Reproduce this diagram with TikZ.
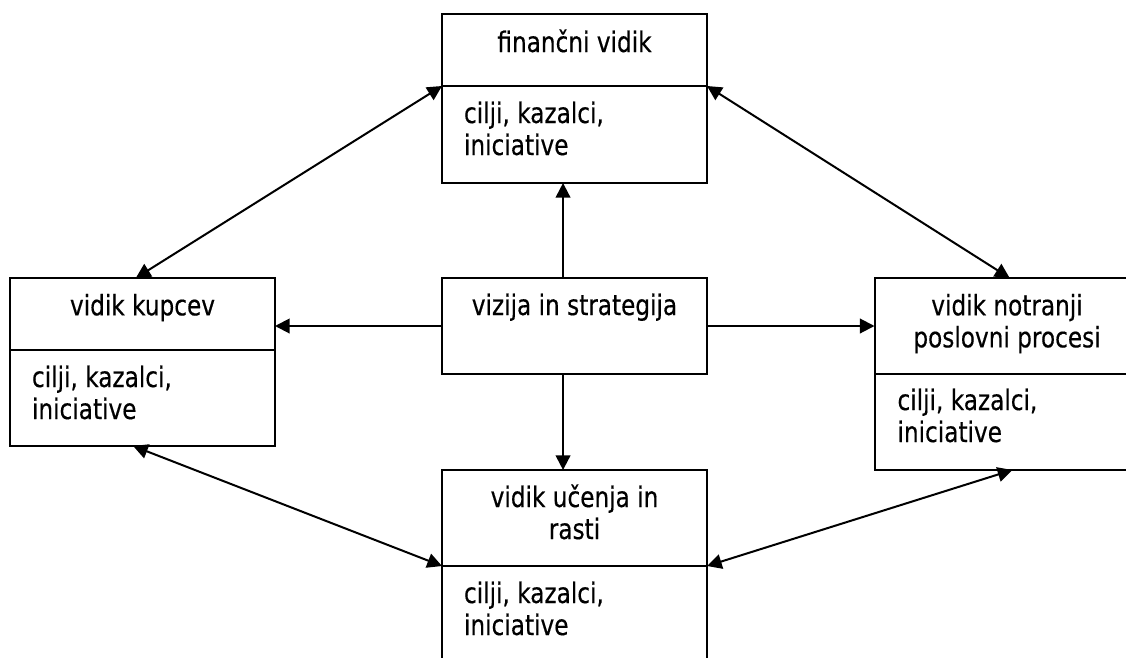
\documentclass[tikz,border=0pt]{standalone}
\usepackage{fontspec}
\setmainfont{DejaVu Sans}[FakeStretch=0.82,FakeBold=0.4]
\usetikzlibrary{arrows.meta,positioning}

\begin{document}
\begin{tikzpicture}
    [x=0.75pt, y=-0.75pt, node distance=0pt, line width=1.5pt,
     font=\fontsize{21.2}{24}\selectfont,
     part/.style={draw, rectangle, minimum width=198.75pt, inner sep=0pt, outer sep=0pt},
     title/.style={anchor=base, align=center, inner sep=0pt},
     body/.style={anchor=base west, align=left, inner sep=0pt},
     tip/.style={-{Triangle[length=11pt,width=11pt]}},
     dbl/.style={{Triangle[length=11pt,width=11pt]}-{Triangle[length=11pt,width=11pt]}}]
  \useasboundingbox (0,0) rectangle (1126,657);
  \fill[white] (0,0) rectangle (1126,657);
  \clip (0,0) rectangle (1126,657);

  % boxes
  \node[part, minimum height=54pt] (finT) at (574.5,50) {};
  \node[part, minimum height=72.75pt] (finB) [below=of finT] {};
  \node[part, minimum height=54pt] (kupT) at (142.5,314) {};
  \node[part, minimum height=72pt] (kupB) [below=of kupT] {};
  \node[part, minimum height=72pt] (viz) at (574.5,326) {};
  \node[part, minimum height=72pt] (notT) at (1007,326) {};
  \node[part, minimum height=72pt] (notB) [below=of notT] {};
  \node[part, minimum height=72pt] (ucT) at (574.5,518) {};
  \node[part, minimum height=100.5pt] (ucB) [below=of ucT] {};

  % texts (base = last line)
  \node[title] (finTt) at ([yshift=-28.5pt]finT.north) {finančni vidik};
  \node[body] (finBt) at ([xshift=15.75pt,yshift=-51.75pt]finB.north west) {cilji, kazalci,\\iniciative};
  \node[title] (kupTt) at ([yshift=-28pt]kupT.north) {vidik kupcev};
  \node[body] (kupBt) at ([xshift=15.75pt,yshift=-51.75pt]kupB.north west) {cilji, kazalci,\\iniciative};
  \node[title] (vizt) at ([yshift=-27.75pt]viz.north) {vizija in strategija};
  \node[title] (notTt) at ([yshift=-52pt]notT.north) {vidik notranji\\poslovni procesi};
  \node[body] (notBt) at ([xshift=16.5pt,yshift=-51pt]notB.north west) {cilji, kazalci,\\iniciative};
  \node[title] (ucTt) at ([yshift=-51.75pt]ucT.north) {vidik učenja in\\rasti};
  \node[body] (ucBt) at ([xshift=15.75pt,yshift=-51.75pt]ucB.north west) {cilji, kazalci,\\iniciative};

  % arrows
  \draw[tip] ([xshift=-8.6pt]viz.north) -- ([xshift=-8.6pt]finB.south);
  \draw[tip] ([xshift=-8.6pt]viz.south) -- ([xshift=-8.6pt]ucT.north);
  \draw[tip] (viz.west) -- (kupT.east |- viz.west);
  \draw[tip] (viz.east) -- (notT.west);
  \draw[dbl] (finB.north west) -- ([xshift=-5pt]kupT.north);
  \draw[dbl] (finB.north east) -- ([xshift=2pt]notT.north);
  \draw[dbl] ([xshift=-7pt]kupB.south) -- (ucB.north west);
  \draw[dbl] ([xshift=4pt]notB.south) -- (ucB.north east);
\end{tikzpicture}
\end{document}
